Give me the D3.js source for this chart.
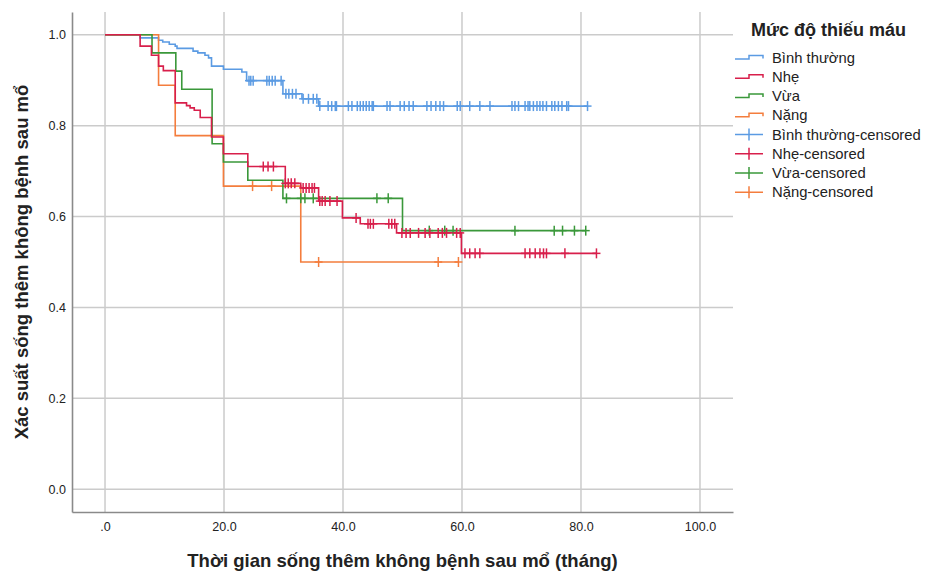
<!DOCTYPE html>
<html>
<head>
<meta charset="utf-8">
<script src="https://cdn.jsdelivr.net/npm/d3@7"></script>
<style>
  html, body { margin: 0; padding: 0; background: #fff; }
  svg { display: block; font-family: "Liberation Sans", Arial, sans-serif; }
</style>
</head>
<body>
<svg id="chart" width="926" height="572"></svg>
<script>
// Kaplan–Meier curves: disease-free survival after surgery by anaemia level

const groups = ["Bình thường", "Nhẹ", "Vừa", "Nặng"];
const groupColors = ["#5b9be3", "#d81f4b", "#3a983a", "#f47d3d"];

// Step curves: time of each drop (months) and survival after the drop
const normalTimes = [0, 5.9, 9.0, 9.7, 10.8, 11.8, 12.1, 14.8, 15.6, 16.8, 17.4, 17.9, 19.9, 23.0, 23.8, 29.9, 33.1, 35.9];
const normalSurv  = [1.0, 0.993, 0.988, 0.984, 0.979, 0.975, 0.970, 0.964, 0.960, 0.955, 0.949, 0.931, 0.924, 0.918, 0.899, 0.870, 0.859, 0.843];
const normalCensored = [24.2, 24.5, 24.9, 27.2, 27.6, 28.1, 28.6, 29.6,
  30.4, 30.9, 31.5, 32.1, 33.3, 34.2, 35.0, 35.6,
  36.1, 37.5, 38.1, 38.7, 38.9, 40.9, 41.5, 42.4, 42.9, 43.4, 43.9, 44.4, 44.9, 45.1,
  47.4, 47.9, 49.6, 50.3, 51.1, 51.8, 54.1, 54.8, 55.6, 56.3, 56.9, 59.2, 59.7,
  61.3, 63.0, 64.7, 68.4, 68.9, 69.5, 70.6, 71.1, 71.4, 72.0, 72.6, 73.1, 73.6, 74.2,
  75.1, 75.6, 76.2, 76.8, 77.6, 77.9, 81.1];

const mildTimes = [0, 5.9, 7.8, 9.0, 9.8, 11.8, 13.7, 14.3, 15.0, 16.0, 17.9, 19.9, 24.0, 30.3, 32.9, 35.9, 39.9, 42.9, 49.0, 59.9];
const mildSurv  = [1.0, 0.975, 0.955, 0.931, 0.921, 0.850, 0.844, 0.839, 0.834, 0.818, 0.775, 0.738, 0.710, 0.673, 0.663, 0.634, 0.597, 0.584, 0.564, 0.519];
const mildCensored = [26.6, 27.4, 28.3, 30.3, 30.8, 31.3, 31.9, 33.3, 33.8, 34.3, 34.8, 35.2,
  36.1, 36.5, 37.0, 37.8, 39.0, 42.2, 44.2, 44.6, 45.1, 47.7, 48.2, 48.7,
  49.9, 50.6, 51.3, 52.7, 53.8, 54.6, 56.0, 56.7, 57.4, 59.1, 59.7,
  60.5, 61.3, 62.2, 63.0, 70.6, 71.4, 72.3, 73.1, 73.7, 74.2, 77.3, 82.6];

const moderateTimes = [0, 7.9, 11.9, 12.9, 18.0, 19.9, 24.0, 29.9, 50.0];
const moderateSurv  = [1.0, 0.96, 0.92, 0.88, 0.76, 0.72, 0.68, 0.64, 0.569];
const moderateCensored = [30.5, 32.9, 33.6, 35.0, 45.7, 47.6, 54.5, 57.1, 58.5, 68.9, 75.5, 76.9, 78.9, 80.8];

const severeTimes = [0, 9.0, 11.8, 19.9, 32.9];
const severeSurv  = [1.0, 0.889, 0.778, 0.667, 0.5];
const severeCensored = [24.8, 28.0, 35.9, 56.0, 59.4];

const xTicks = [0, 20, 40, 60, 80, 100];
const xTickLabels = [".0", "20.0", "40.0", "60.0", "80.0", "100.0"];
const yTicks = [0, 0.2, 0.4, 0.6, 0.8, 1.0];
const yTickLabels = ["0.0", "0.2", "0.4", "0.6", "0.8", "1.0"];

const xTitle = "Thời gian sống thêm không bệnh sau mổ (tháng)";
const yTitle = "Xác suất sống thêm không bệnh sau mổ";
const legendTitle = "Mức độ thiếu máu";

// ---- assemble series ----
const series = [
  { name: groups[0], color: groupColors[0], times: normalTimes, surv: normalSurv, cens: normalCensored },
  { name: groups[1], color: groupColors[1], times: mildTimes, surv: mildSurv, cens: mildCensored },
  { name: groups[2], color: groupColors[2], times: moderateTimes, surv: moderateSurv, cens: moderateCensored },
  { name: groups[3], color: groupColors[3], times: severeTimes, surv: severeSurv, cens: severeCensored }
];

// survival level at time t for a step curve
function survAt(s, t) {
  let v = s.surv[0];
  for (let i = 0; i < s.times.length; i++) {
    if (s.times[i] <= t + 1e-9) v = s.surv[i]; else break;
  }
  return v;
}

const svg = d3.select("#chart");
const plot = { left: 72, right: 733, top: 12, bottom: 512 };

const x = d3.scaleLinear().domain([-5.55, 105.55]).range([plot.left, plot.right]);
const y = d3.scaleLinear().domain([-0.05, 1.05]).range([plot.bottom, plot.top]);

// gridlines
const grid = svg.append("g").attr("stroke", "#cbcbcb").attr("stroke-width", 1.5);
grid.selectAll("line.v").data(xTicks).join("line")
  .attr("x1", d => x(d)).attr("x2", d => x(d))
  .attr("y1", plot.top).attr("y2", plot.bottom);
grid.selectAll("line.h").data(yTicks).join("line")
  .attr("x1", plot.left).attr("x2", plot.right)
  .attr("y1", d => y(d)).attr("y2", d => y(d));

// axes
const xAxis = d3.axisBottom(x).tickValues(xTicks).tickSize(0).tickSizeOuter(0).tickPadding(10)
  .tickFormat((d, i) => xTickLabels[i]);
const yAxis = d3.axisLeft(y).tickValues(yTicks).tickSize(0).tickSizeOuter(0).tickPadding(6)
  .tickFormat((d, i) => yTickLabels[i]);

const gx = svg.append("g").attr("transform", `translate(0,${plot.bottom})`).call(xAxis);
const gy = svg.append("g").attr("transform", `translate(${plot.left},0)`).call(yAxis);
[gx, gy].forEach(g => {
  g.select(".domain").attr("stroke", "#8a8a8a").attr("stroke-width", 1.6);
  g.selectAll("text").attr("fill", "#222").style("font-size", "12.5px")
    .style("font-family", "\"Liberation Sans\", Arial, sans-serif");
});

// step curves
const stepLine = d3.line().x(d => x(d[0])).y(d => y(d[1])).curve(d3.curveStepAfter);
const drawOrder = [0, 3, 2, 1];
drawOrder.forEach(k => {
  const s = series[k];
  const lastT = Math.max(s.times[s.times.length - 1], d3.max(s.cens));
  const pts = s.times.map((t, i) => [t, s.surv[i]]);
  pts.push([lastT, s.surv[s.surv.length - 1]]);
  svg.append("path").datum(pts)
    .attr("fill", "none").attr("stroke", s.color).attr("stroke-width", 1.6)
    .attr("d", stepLine);
});

// censor marks
drawOrder.forEach(k => {
  const s = series[k];
  const g = svg.append("g").attr("stroke", s.color).attr("stroke-width", 1.5);
  const marks = g.selectAll("g").data(s.cens).join("g")
    .attr("transform", d => `translate(${x(d)},${y(survAt(s, d))})`);
  marks.append("line").attr("x1", 0).attr("x2", 0).attr("y1", -5).attr("y2", 5);
  marks.append("line").attr("x1", -4).attr("x2", 4).attr("y1", 0).attr("y2", 0);
});

// axis titles
svg.append("text")
  .attr("x", (plot.left + plot.right) / 2).attr("y", 567)
  .attr("text-anchor", "middle").attr("fill", "#222")
  .style("font-size", "18.5px").style("font-weight", "bold")
  .text(xTitle);
svg.append("text")
  .attr("transform", `translate(28,${(plot.top + plot.bottom) / 2}) rotate(-90)`)
  .attr("text-anchor", "middle").attr("fill", "#222")
  .style("font-size", "18.5px").style("font-weight", "bold")
  .text(yTitle);

// legend
const legend = svg.append("g");
legend.append("text").attr("x", 751).attr("y", 36)
  .attr("fill", "#222").style("font-size", "18px").style("font-weight", "bold")
  .text(legendTitle);

const legendItems = series.map(s => ({ label: s.name, color: s.color, kind: "line" }))
  .concat(series.map(s => ({ label: s.name + "-censored", color: s.color, kind: "cens" })));
const itemY0 = 57.5, itemStep = 19.25;
legendItems.forEach((it, i) => {
  const cy = itemY0 + i * itemStep;
  const g = legend.append("g").attr("stroke", it.color).attr("stroke-width", 1.5).attr("fill", "none");
  if (it.kind === "line") {
    g.append("path").attr("d", `M735,${cy + 1.5}H749V${cy - 2}H763V${cy + 1}`);
  } else {
    g.append("line").attr("x1", 735).attr("x2", 763).attr("y1", cy).attr("y2", cy);
    g.append("line").attr("x1", 749).attr("x2", 749).attr("y1", cy - 6).attr("y2", cy + 6);
  }
  legend.append("text").attr("x", 772).attr("y", cy + 5)
    .attr("fill", "#222").style("font-size", "14.8px")
    .text(it.label);
});
</script>
</body>
</html>
